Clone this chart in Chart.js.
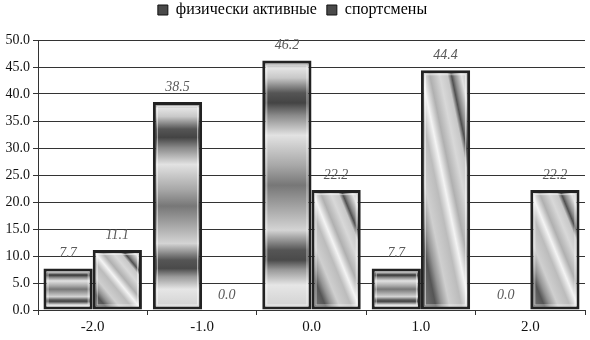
<!DOCTYPE html>
<html>
<head>
<meta charset="utf-8">
<script src="https://cdn.jsdelivr.net/npm/chart.js@4/dist/chart.umd.min.js"></script>
<style>
html,body{margin:0;padding:0;background:#fff;}
#wrap{width:590px;height:340px;}
</style>
</head>
<body>
<div id="wrap"><canvas id="c" width="590" height="340"></canvas></div>
<script>
const categories = ['-2.0', '-1.0', '0.0', '1.0', '2.0'];
const activeValues = [7.7, 38.5, 46.2, 7.7, 0.0];
const athleteValues = [11.1, 0.0, 22.2, 44.4, 22.2];
const seriesNames = ['физически активные', 'спортсмены'];
const yMin = 0, yMax = 50, yStep = 5;

const CAT_PCT = 0.9;
const SERIF = '"Liberation Serif", "Times New Roman", serif';

function barBox(ctx) {
  const chart = ctx.chart;
  if (!chart.chartArea || !chart.scales.x || !chart.scales.y) return null;
  const xs = chart.scales.x, ys = chart.scales.y;
  const v = ctx.raw;
  const top = ys.getPixelForValue(v), base = ys.getPixelForValue(0);
  const catW = xs.width / categories.length;
  const bw = catW * CAT_PCT / 2;
  const c = xs.getPixelForValue(ctx.dataIndex);
  const left = c - bw + ctx.datasetIndex * bw;
  return {left, right: left + bw, top, bottom: base, w: bw, h: Math.max(base - top, 1)};
}

function fillActive(ctx) {
  const b = barBox(ctx);
  if (!b) return '#999';
  const g = ctx.chart.ctx.createLinearGradient(0, b.top, 0, b.bottom);
  const stops = [
    [0, '#6a6a6a'], [0.03, '#e4e4e4'], [0.07, '#c8c8c8'], [0.13, '#555'], [0.17, '#444'],
    [0.22, '#8a8a8a'], [0.3, '#e2e2e2'], [0.42, '#a8a8a8'], [0.5, '#777'],
    [0.58, '#a0a0a0'], [0.68, '#d4d4d4'], [0.76, '#555'], [0.8, '#4a4a4a'],
    [0.84, '#9a9a9a'], [0.9, '#e6e6e6'], [1, '#cfcfcf']
  ];
  stops.forEach(s => g.addColorStop(s[0], s[1]));
  return g;
}

function fillAthlete(ctx) {
  const b = barBox(ctx);
  if (!b) return '#bbb';
  const t = 2 * b.w * b.h / (b.h * b.h + b.w * b.w);
  const g = ctx.chart.ctx.createLinearGradient(b.right, b.top, b.right - b.h * t, b.top + b.w * t);
  const stops = [
    [0, '#b5b5b5'], [0.1, '#e2e2e2'], [0.17, '#8a8a8a'], [0.2, '#505050'], [0.24, '#c8c8c8'],
    [0.32, '#d8d8d8'], [0.42, '#b0b0b0'], [0.5, '#f4f4f4'], [0.58, '#bcbcbc'],
    [0.7, '#cfcfcf'], [0.78, '#959595'], [0.84, '#555'], [0.9, '#666'], [1, '#808080']
  ];
  stops.forEach(s => g.addColorStop(s[0], s[1]));
  return g;
}

const bevelAndLabels = {
  id: 'bevelAndLabels',
  afterDatasetsDraw(chart) {
    const c = chart.ctx;
    c.save();
    chart.data.datasets.forEach((ds, di) => {
      const meta = chart.getDatasetMeta(di);
      meta.data.forEach((el, i) => {
        const h = el.base - el.y;
        if (h < 10) return;
        const l = el.x - el.width / 2 + 4, r = el.x + el.width / 2 - 4;
        c.strokeStyle = 'rgba(255,255,255,0.55)';
        c.lineWidth = 1;
        c.strokeRect(l + 0.5, el.y + 4.5, r - l - 1, h - 9);
      });
    });
    c.font = 'italic 14px ' + SERIF;
    c.fillStyle = '#5a5a5a';
    c.textAlign = 'center';
    c.textBaseline = 'middle';
    chart.data.datasets.forEach((ds, di) => {
      const meta = chart.getDatasetMeta(di);
      meta.data.forEach((el, i) => {
        c.fillText(ds.data[i].toFixed(1), el.x, el.y - 15);
      });
    });
    c.restore();
  }
};

const legendFit = {
  id: 'legendFit',
  beforeUpdate(chart) {
    const lg = chart.legend;
    if (lg && !lg._patched) {
      const orig = lg.fit;
      lg.fit = function () { orig.call(this); this.height = 48; };
      lg._patched = true;
    }
  }
};

new Chart(document.getElementById('c'), {
  type: 'bar',
  data: {
    labels: categories,
    datasets: [
      {label: seriesNames[0], data: activeValues, backgroundColor: fillActive,
       borderColor: '#222', borderWidth: 3, borderSkipped: false,
       categoryPercentage: CAT_PCT, barPercentage: 1},
      {label: seriesNames[1], data: athleteValues, backgroundColor: fillAthlete,
       borderColor: '#222', borderWidth: 3, borderSkipped: false,
       categoryPercentage: CAT_PCT, barPercentage: 1}
    ]
  },
  options: {
    responsive: false,
    animation: false,
    devicePixelRatio: 1,
    layout: {padding: {left: 0, right: 5, top: -8, bottom: 0}},
    plugins: {
      tooltip: {enabled: false},
      legend: {
        position: 'top',
        labels: {
          boxWidth: 10, boxHeight: 10, padding: 10,
          color: '#222',
          font: {family: SERIF, size: 16},
          generateLabels(chart) {
            return chart.data.datasets.map((d, i) => ({
              text: d.label, fillStyle: '#4a4a4a',
              strokeStyle: '#111', lineWidth: 1, datasetIndex: i, hidden: false
            }));
          }
        }
      }
    },
    scales: {
      x: {
        grid: {display: true, offset: true, drawOnChartArea: false, tickLength: 5, color: '#333'},
        border: {display: true, color: '#333', width: 1},
        ticks: {color: '#111', font: {family: SERIF, size: 15}, padding: 3},
        afterFit(s) { s.height = 30; }
      },
      y: {
        min: yMin, max: yMax,
        grid: {color: '#333', lineWidth: 1, tickLength: 5},
        border: {display: true, color: '#333', width: 1},
        ticks: {stepSize: yStep, color: '#111', font: {family: SERIF, size: 14},
                padding: 3, callback: v => Number(v).toFixed(1)},
        afterFit(s) { s.width = 38; }
      }
    }
  },
  plugins: [legendFit, bevelAndLabels]
});
</script>
</body>
</html>
